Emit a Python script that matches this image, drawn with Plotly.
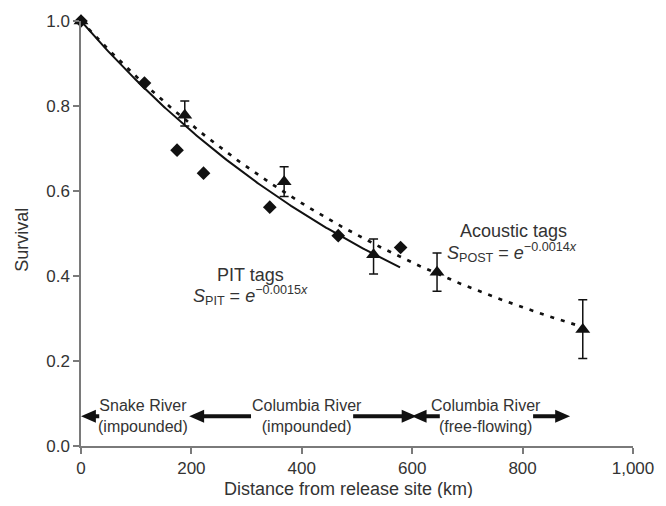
import numpy as np
import plotly.graph_objects as go

# ---- data ----
pit_km = [0, 115, 174, 222, 342, 466, 579]
pit_surv = [1.0, 0.854, 0.696, 0.642, 0.562, 0.495, 0.467]

ac_km = [0, 188, 368, 530, 645, 909]
ac_surv = [1.0, 0.778, 0.622, 0.450, 0.409, 0.274]
ac_upper = [1.0, 0.812, 0.657, 0.487, 0.454, 0.344]
ac_lower = [1.0, 0.753, 0.587, 0.405, 0.364, 0.206]

# fitted exponential models printed on the chart
k_pit = 0.0015
k_post = 0.0014
pit_fit_end = 578
post_fit_end = 895

x_ticks = [0, 200, 400, 600, 800, 1000]
y_ticks = [0.0, 0.2, 0.4, 0.6, 0.8, 1.0]

# river reaches
reach_labels = ["Snake River<br>(impounded)", "Columbia River<br>(impounded)", "Columbia River<br>(free-flowing)"]
reach_centres = [113, 409, 734]
arrow_tails = [33, 308, 493, 650, 819]
arrow_tips = [0, 196, 608, 599, 886]
reach_y = 0.07

# style
INK = "#111111"
TXT = "#333333"
AX = "#7a7a7a"
FONT = "Liberation Sans, Arial, Helvetica, sans-serif"
HEAD_LEN_KM = 27      # arrow-head length (style)
HEAD_HALF_H = 0.0155  # arrow-head half height (style)

fig = go.Figure()

xs_pit = np.linspace(0, pit_fit_end, 200)
fig.add_trace(go.Scatter(x=xs_pit, y=np.exp(-k_pit * xs_pit), mode="lines",
                         line=dict(color=INK, width=2), hoverinfo="skip"))
xs_post = np.linspace(0, post_fit_end, 300)
fig.add_trace(go.Scatter(x=xs_post, y=np.exp(-k_post * xs_post), mode="lines",
                         line=dict(color=INK, width=2.7, dash="4px,7px"), hoverinfo="skip"))

fig.add_trace(go.Scatter(x=pit_km, y=pit_surv, mode="markers", cliponaxis=False,
                         marker=dict(symbol="diamond", size=10.5, color=INK)))

err_plus = [u - s for u, s in zip(ac_upper, ac_surv)]
err_minus = [s - l for s, l in zip(ac_surv, ac_lower)]
fig.add_trace(go.Scatter(x=ac_km, y=ac_surv, mode="markers", cliponaxis=False,
                         marker=dict(symbol="triangle-up", size=13, color=INK),
                         error_y=dict(type="data", symmetric=False, array=err_plus,
                                      arrayminus=err_minus, color=INK, thickness=1.5, width=4.5)))

shapes = []
for tail, tip in zip(arrow_tails, arrow_tips):
    d = 1 if tip > tail else -1
    base = tip - d * HEAD_LEN_KM
    shapes.append(dict(type="line", xref="x", yref="y", x0=tail, x1=base + d * 2, y0=reach_y, y1=reach_y,
                       line=dict(color=INK, width=4)))
    shapes.append(dict(type="path", xref="x", yref="y",
                       path=f"M {tip},{reach_y} L {base},{reach_y + HEAD_HALF_H} L {base},{reach_y - HEAD_HALF_H} Z",
                       fillcolor=INK, line=dict(width=0)))

ann = []
for lab, c in zip(reach_labels, reach_centres):
    ann.append(dict(x=c, y=reach_y, xref="x", yref="y", text=lab, showarrow=False,
                    font=dict(family=FONT, size=16, color=TXT), xanchor="center", yanchor="middle"))

ann.append(dict(x=784, y=0.506, xref="x", yref="y", text="Acoustic tags", showarrow=False,
                font=dict(family=FONT, size=18, color=TXT)))
ann.append(dict(x=781, y=0.455, xref="x", yref="y",
                text="<i>S</i><sub>POST</sub> = <i>e</i><sup>\u22120.0014<i>x</i></sup>",
                showarrow=False, font=dict(family=FONT, size=18, color=TXT)))
ann.append(dict(x=307, y=0.403, xref="x", yref="y", text="PIT tags", showarrow=False,
                font=dict(family=FONT, size=18, color=TXT)))
ann.append(dict(x=307, y=0.353, xref="x", yref="y",
                text="<i>S</i><sub>PIT</sub> = <i>e</i><sup>\u22120.0015<i>x</i></sup>",
                showarrow=False, font=dict(family=FONT, size=18, color=TXT)))

ann.append(dict(x=0.485, y=-0.102, xref="paper", yref="paper", text="Distance from release site (km)",
                showarrow=False, font=dict(family=FONT, size=18, color=TXT),
                xanchor="center", yanchor="middle"))
ann.append(dict(x=-0.107, y=0.485, xref="paper", yref="paper", text="Survival", textangle=-90,
                showarrow=False, font=dict(family="Liberation Sans Narrow, " + FONT, size=18, color=TXT),
                xanchor="center", yanchor="middle"))

# the page body has an 8 px default margin, so the figure is 16 px smaller than the window
fig.update_layout(
    width=650, height=490,
    margin=dict(l=73.4, r=25.3, t=12.7, b=51.5, autoexpand=False),
    paper_bgcolor="white", plot_bgcolor="white",
    showlegend=False,
    annotations=ann,
    shapes=shapes,
    font=dict(family=FONT, color=TXT),
)
fig.update_xaxes(range=[0, 1000], tickvals=x_ticks, tickformat=",d",
                 showline=True, linecolor=AX, linewidth=1.5, ticks="outside", ticklen=6,
                 tickcolor=AX, tickwidth=1.5, showgrid=False, zeroline=False,
                 tickfont=dict(family=FONT, size=17, color=TXT))
fig.update_yaxes(range=[0, 1.0], tickvals=y_ticks, tickformat=".1f",
                 showline=True, linecolor=AX, linewidth=1.5, ticks="outside", ticklen=6,
                 tickcolor=AX, tickwidth=1.5, showgrid=False, zeroline=False,
                 tickfont=dict(family=FONT, size=17, color=TXT))

fig.write_html("out.html")
